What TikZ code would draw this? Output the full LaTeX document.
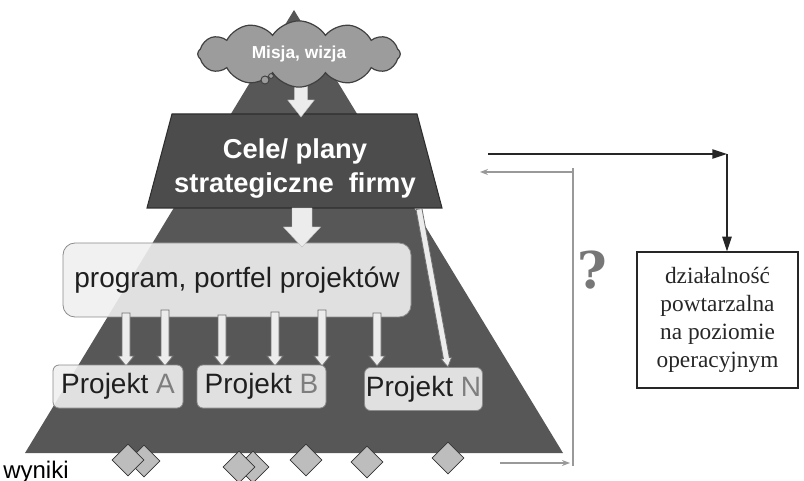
\documentclass[tikz,border=0pt]{standalone}
\usepackage{fontspec}
\setmainfont{Liberation Serif}
\setsansfont{Liberation Sans}
\newfontfamily\qfont{DejaVu Serif}
\usetikzlibrary{shapes.symbols,shapes.geometric,arrows.meta,calc}
\definecolor{tri}{HTML}{575757}
\definecolor{trap}{HTML}{4C4C4C}
\definecolor{trapline}{HTML}{2E2E2E}
\definecolor{cloudgray}{HTML}{9C9C9C}
\definecolor{boxfill}{HTML}{EFEFEF}
\definecolor{boxline}{HTML}{8C8C8C}
\definecolor{arrfill}{HTML}{ECECEC}
\definecolor{diafill}{HTML}{BDBDBD}
\definecolor{linegray}{HTML}{999999}
\definecolor{qgray}{HTML}{777777}
\definecolor{lettergray}{HTML}{7E7E7E}
\newcommand\blkarrow[6]{%
  \coordinate (bah) at ($(#3)!#6!(#2)$);
  \filldraw[#1] ($(#2)!#4!90:(#3)$) -- ($(bah)!#4!90:(#3)$) -- ($(bah)!#5!90:(#3)$) -- (#3)
    -- ($(bah)!#5!-90:(#3)$) -- ($(bah)!#4!-90:(#3)$) -- ($(#2)!#4!-90:(#3)$) -- cycle;}
\begin{document}
\begin{tikzpicture}[x=0.75pt,y=-0.75pt,
  bigarrow/.style={fill=arrfill,draw=arrfill!80!black,line width=0.3pt},
  smallarrow/.style={fill=arrfill,draw=boxline!80!black,line width=0.6pt},
  projbox/.style={draw=boxline,line width=0.6pt,fill=boxfill,fill opacity=0.9,text opacity=1,
    rounded corners=4.5pt,minimum height=32.25pt,inner sep=1pt,
    font=\sffamily\fontsize{21}{24}\selectfont,text=black!88},
  dia/.style={diamond,draw=black!80,fill=diafill,line width=0.6pt,minimum width=24pt,minimum height=24pt,inner sep=0pt},
  grayline/.style={draw=linegray,line width=1.1pt},
  grayarrow/.style={grayline,-{Stealth[length=6pt,width=4.5pt]}},
  blackarrow/.style={draw=black!85,line width=1.1pt,-{Triangle[length=11pt,width=7pt]}}
]
\useasboundingbox (0,0) rectangle (804,481);
% pyramid
\fill[tri] (294,10) -- (25,453) -- (563,453) -- cycle;
% trapezoid
\filldraw[fill=trap,draw=trapline,line width=0.8pt] (172,114) -- (417,114) -- (442,208) -- (147,208) -- cycle;
\node[text=white,align=center,font=\sffamily\bfseries\fontsize{20.5}{25.5}\selectfont] (cele) at (295,168.5)
  {Cele/ plany\\strategiczne\ \ firmy};
% arrow cloud -> trapezoid
\coordinate (ca) at (301,78);
\coordinate (cb) at (301,117);
\blkarrow{bigarrow}{ca}{cb}{4.9pt}{10pt}{12.75pt}
% cloud
\node[cloud,cloud puffs=12,cloud puff arc=115,aspect=3.1,minimum width=152pt,minimum height=48pt,
  fill=cloudgray,draw=black!75,line width=0.9pt,text=white,
  font=\sffamily\bfseries\fontsize{13}{15}\selectfont] (misja) at (299,54) {Misja, wizja};
\filldraw[fill=cloudgray,draw=black!75,line width=0.7pt] (265,80) circle (3pt);
\filldraw[fill=cloudgray,draw=black!75,line width=0.6pt] (271,76) circle (1.8pt);
% program box
\node[projbox,rounded corners=9pt,minimum width=261pt,minimum height=55.5pt] (prog) at (237,280)
  {program, portfel projektów};
% arrow trapezoid -> program
\coordinate (ta) at (302,208);
\coordinate (tb) at (302,247);
\blkarrow{bigarrow}{ta}{tb}{7.5pt}{14pt}{15pt}
% small arrows
\foreach \i/\x/\ys in {1/126/313,2/165/310,3/222/315,4/275/312,5/322/310,6/377/313}{
  \coordinate (s\i a) at (\x,\ys);
  \coordinate (s\i b) at (\x,366);
  \blkarrow{smallarrow}{s\i a}{s\i b}{3pt}{6pt}{7.5pt}
}
% slanted arrow to Projekt N
\coordinate (na) at (419,209);
\coordinate (nb) at (448,367);
\blkarrow{smallarrow}{na}{nb}{2.25pt}{4pt}{6.75pt}
% project boxes
\node[projbox,minimum width=97.5pt] (pa) at (118,386.5) {Projekt \textcolor{lettergray}{A}};
\node[projbox,minimum width=96.75pt] (pb) at (261.5,386.5) {Projekt \textcolor{lettergray}{B}};
\node[projbox,minimum width=86.25pt] (pn) at (423.5,389) {Projekt \textcolor{lettergray}{N}};
% diamonds
\node[dia] (d1b) at (144,461) {};
\node[dia] (d1) at (128,460) {};
\node[dia] (d2b) at (253,467) {};
\node[dia] (d2) at (239,467) {};
\node[dia] (d3) at (306,460) {};
\node[dia] (d4) at (367,462) {};
\node[dia] (d5) at (448,458) {};
% wyniki
\node[anchor=base west,inner sep=0pt,font=\sffamily\fontsize{18}{20}\selectfont] (wyn) at (3,478) {wyniki};
% right side box
\node[draw=black!85,line width=0.9pt,minimum width=120.75pt,minimum height=102pt,align=center,
  font=\fontsize{17.5}{21}\selectfont,text=black!85] (dz) at (717.5,320)
  {działalność\\powtarzalna\\na poziomie\\operacyjnym};
% black arrows
\coordinate (bs) at (488,154);
\coordinate (bc) at (727,154);
\draw[blackarrow] (bs) -- (bc);
\draw[blackarrow] (bc) -- (bc |- dz.north);
% gray feedback lines
\coordinate (g1) at (573,172);
\coordinate (g2) at (480,172);
\coordinate (g0) at (573,168);
\coordinate (g3) at (573,466);
\coordinate (g4) at (500,463);
\coordinate (g5) at (570,463);
\draw[grayline] (g0) -- (g3);
\draw[grayarrow] (g1) -- (g2);
\draw[grayarrow] (g4) -- (g5);
% question mark
\node[text=qgray,font=\qfont\bfseries\fontsize{38}{38}\selectfont] (q) at (592,270) {?};
\end{tikzpicture}
\end{document}
